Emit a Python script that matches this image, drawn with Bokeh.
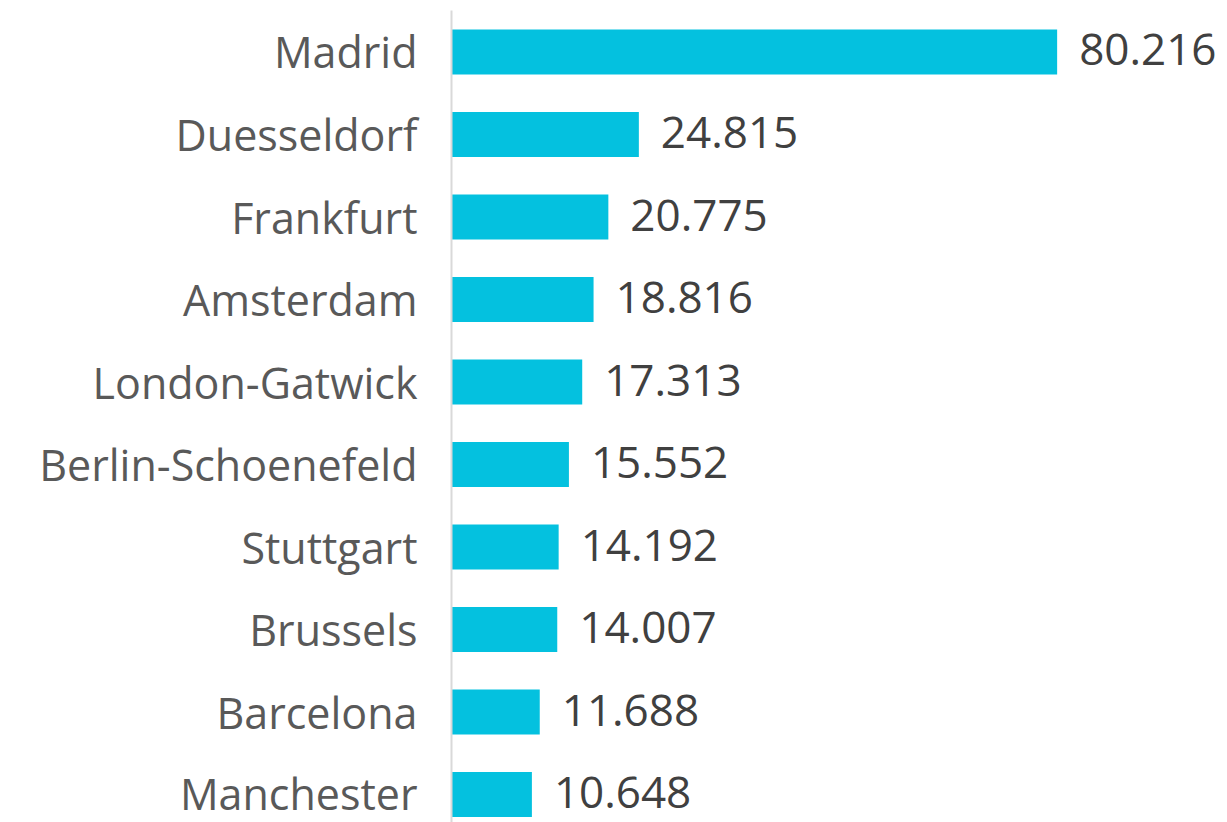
from bokeh.plotting import figure
from bokeh.models import Range1d, ColumnDataSource, FixedTicker
from bokeh.core.properties import value
from bokeh.embed import file_html
from bokeh.resources import INLINE

cities = ["Madrid", "Duesseldorf", "Frankfurt", "Amsterdam", "London-Gatwick",
          "Berlin-Schoenefeld", "Stuttgart", "Brussels", "Barcelona", "Manchester"]
passengers = [80216, 24815, 20775, 18816, 17313, 15552, 14192, 14007, 11688, 10648]

pos = list(range(len(cities)))
labels = [f"{v:,}".replace(",", ".") for v in passengers]
src = ColumnDataSource(dict(y=pos, v=passengers, lab=labels))

p = figure(width=1227, height=822, output_backend="svg", toolbar_location=None,
           x_range=Range1d(0, 102780), y_range=Range1d(9.339, -0.503),
           min_border_left=451, min_border_right=0, min_border_top=10, min_border_bottom=0)
p.outline_line_color = None
p.xgrid.visible = False
p.ygrid.visible = False
p.xaxis.visible = False

p.hbar(y="y", left=0, right="v", height=0.545, source=src,
       fill_color="#04C1DF", line_color=None)
p.text(x="v", y="y", text="lab", source=src, x_offset=22, y_offset=-2,
       text_font=value("Open Sans"), text_font_size="44px", text_color="#404040",
       text_baseline="middle", text_align="left")

ax = p.yaxis[0]
ax.ticker = FixedTicker(ticks=pos)
ax.major_label_overrides = {i: c for i, c in enumerate(cities)}
ax.major_label_text_font = "Open Sans"
ax.major_label_text_font_size = "43px"
ax.major_label_text_color = "#595959"
ax.major_label_standoff = 34
ax.major_tick_in = 0
ax.major_tick_out = 0
ax.minor_tick_in = 0
ax.minor_tick_out = 0
ax.axis_line_color = "#D9D9D9"
ax.axis_line_width = 2

open("out.html", "w").write(file_html(p, INLINE))
